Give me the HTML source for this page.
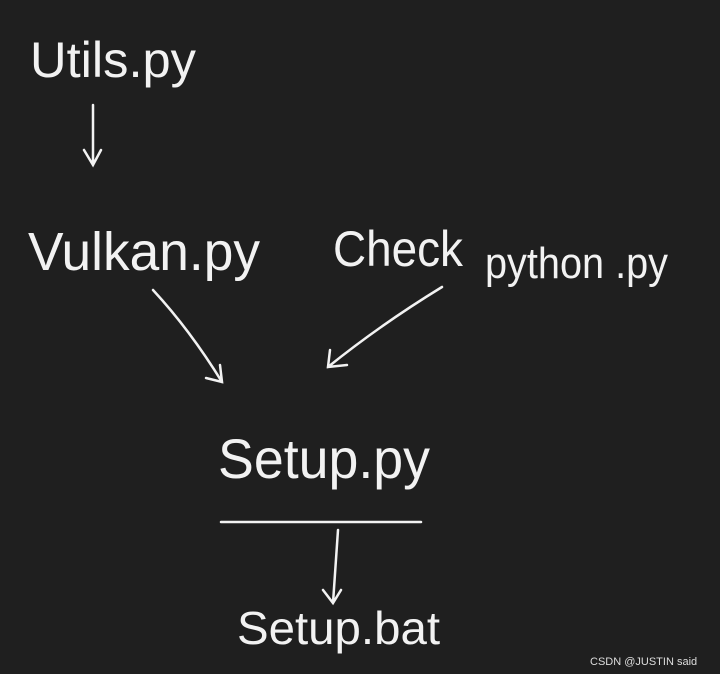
<!DOCTYPE html>
<html><head><meta charset="utf-8"><style>
html,body{margin:0;padding:0;background:#1f1f1f;}
svg{display:block}
text{font-family:"Liberation Sans",sans-serif;fill:#f2f2f2;}
</style></head><body>
<svg width="720" height="674" viewBox="0 0 720 674" xmlns="http://www.w3.org/2000/svg">
<rect width="720" height="674" fill="#1f1f1f"/>
<g stroke="#f2f2f2" stroke-width="2.5" fill="none" stroke-linecap="round">
<path d="M93 105 L93 165 M84 150 L93 165 L101 150"/>
<path d="M153 290 Q190 330 222 382 M206 378 L222 382 L220 365"/>
<path d="M442 287 Q380 325 328 367 M330 350 L328 367 L347 365"/>
<path d="M221 522 L421 522"/>
<path d="M338 530 L333 603 M323 590 L333 603 L341 590"/>
</g>
<text x="30" y="77" font-size="50" textLength="166" lengthAdjust="spacingAndGlyphs">Utils.py</text>
<text x="28" y="270" font-size="54" textLength="232" lengthAdjust="spacingAndGlyphs">Vulkan.py</text>
<text x="333" y="266" font-size="50" textLength="130" lengthAdjust="spacingAndGlyphs">Check</text>
<text x="485" y="278" font-size="44" textLength="183" lengthAdjust="spacingAndGlyphs">python .py</text>
<text x="218" y="478" font-size="56" textLength="212" lengthAdjust="spacingAndGlyphs">Setup.py</text>
<text x="237" y="644" font-size="46" textLength="203" lengthAdjust="spacingAndGlyphs">Setup.bat</text>
<text x="590" y="665" font-size="11" style="fill:#dddddd">CSDN @JUSTIN said</text>
</svg>
</body></html>
